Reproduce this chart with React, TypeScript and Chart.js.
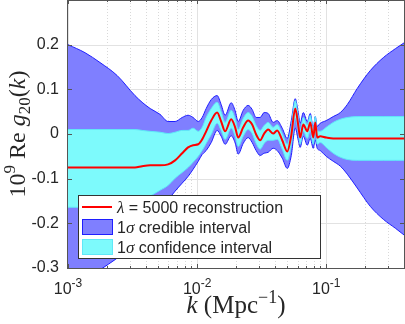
import React, { useEffect, useRef } from 'react';
import { Chart, registerables } from 'chart.js';

Chart.register(...registerables);

// k (Mpc^-1)
const kValues = [
  0.001, 0.001355, 0.00177, 0.0024, 0.0033, 0.00375, 0.00433, 0.00516, 0.00596, 0.00675,
  0.00766, 0.00851, 0.00931, 0.0102, 0.01094, 0.01175, 0.01286, 0.01429, 0.01535, 0.01648,
  0.01835, 0.0197, 0.0208, 0.02275, 0.02483, 0.02667, 0.02864, 0.03076, 0.03304, 0.03548,
  0.03882, 0.04169, 0.0456, 0.0499, 0.0536, 0.0575, 0.0607, 0.0628, 0.0664, 0.0713,
  0.0752, 0.0793, 0.0822, 0.0851, 0.0897, 0.1, 0.1132, 0.1285, 0.1456, 0.1738,
  0.2193, 0.2767, 0.343, 0.4,
];

// lambda = 5000 reconstruction
const reconstruction = [
  -0.075, -0.075, -0.075, -0.075, -0.075, -0.072, -0.07, -0.07, -0.068, -0.059,
  -0.043, -0.03, -0.025, -0.023, -0.012, 0.006, 0.03, 0.048, 0.028, 0.006,
  0.033, 0.015, -0.008, 0.015, 0.03, 0.021, -0.001, -0.014, 0.001, 0.01,
  0.001, 0.008, -0.014, -0.039, -0.003, 0.057, 0.019, -0.008, 0.021, 0.006,
  0.026, -0.008, 0.026, -0.008, -0.005, -0.008, -0.01, -0.01, -0.01, -0.01,
  -0.01, -0.01, -0.01, -0.01,
];

// 1 sigma confidence interval
const confidenceUpper = [
  0.01, 0.01, 0.01, 0.01, 0.01, 0.008, 0.006, 0.004, 0.001, 0.004,
  0.008, 0.008, 0.013, 0.006, 0.015, 0.037, 0.057, 0.071, 0.05, 0.026,
  0.053, 0.035, 0.01, 0.035, 0.048, 0.039, 0.019, 0.008, 0.019, 0.026,
  0.015, 0.021, 0.001, -0.023, 0.017, 0.075, 0.037, 0.008, 0.037, 0.021,
  0.042, 0.008, 0.039, 0.008, 0.006, 0.015, 0.026, 0.033, 0.037, 0.039,
  0.039, 0.039, 0.039, 0.039,
];
const confidenceLower = [
  -0.164, -0.164, -0.164, -0.164, -0.159, -0.15, -0.139, -0.126, -0.115, -0.099,
  -0.086, -0.075, -0.063, -0.05, -0.037, -0.021, -0.001, 0.024, 0.008, -0.012,
  0.013, -0.005, -0.028, -0.005, 0.01, 0.001, -0.021, -0.034, -0.021, -0.014,
  -0.014, -0.012, -0.034, -0.059, -0.025, 0.035, 0.004, -0.023, 0.006, -0.01,
  0.008, -0.023, 0.008, -0.023, -0.019, -0.03, -0.043, -0.052, -0.057, -0.059,
  -0.059, -0.059, -0.059, -0.059,
];

// 1 sigma credible interval
const credibleUpper = [
  0.2, 0.182, 0.16, 0.131, 0.086, 0.071, 0.057, 0.044, 0.028, 0.028,
  0.037, 0.042, 0.037, 0.028, 0.037, 0.057, 0.077, 0.086, 0.066, 0.042,
  0.07, 0.052, 0.028, 0.053, 0.064, 0.055, 0.037, 0.037, 0.048, 0.046,
  0.026, 0.03, 0.013, -0.01, 0.03, 0.079, 0.048, 0.024, 0.048, 0.028,
  0.046, 0.013, 0.039, 0.017, 0.024, 0.03, 0.039, 0.048, 0.066, 0.102,
  0.142, 0.171, 0.191, 0.204,
];
const credibleLower = [
  -0.35, -0.327, -0.304, -0.278, -0.244, -0.224, -0.202, -0.175, -0.148, -0.128,
  -0.11, -0.095, -0.079, -0.061, -0.046, -0.037, -0.019, 0.008, -0.005, -0.023,
  -0.004, -0.02, -0.045, -0.021, -0.008, -0.019, -0.037, -0.048, -0.043, -0.041,
  -0.032, -0.037, -0.054, -0.077, -0.048, 0.013, -0.014, -0.03, -0.005, -0.025,
  -0.01, -0.032, -0.014, -0.032, -0.037, -0.05, -0.061, -0.072, -0.09, -0.121,
  -0.162, -0.191, -0.211, -0.226,
];

const yGridValues = [-0.2, -0.1, 0, 0.1, 0.2];
const xDecades = [0.001, 0.01, 0.1];
const xTickExponents = ['-3', '-2', '-1'];
const minorMultipliers = [2, 3, 4, 5, 6, 7, 8, 9];
const legendLabels = ['λ = 5000 reconstruction', '1σ credible interval', '1σ confidence interval'];

const SANS = '"Liberation Sans", Arial, Helvetica, sans-serif';
const SERIF = '"Liberation Serif", "Times New Roman", serif';
const TEXT = '#262626';
const AXIS = '#555555';
const BLUE_FILL = 'rgb(127,127,255)';
const BLUE_EDGE = 'rgb(30,30,255)';
const CYAN_FILL = 'rgb(125,250,252)';
const CYAN_EDGE = 'rgb(95,232,248)';
const RED = 'rgb(255,0,0)';

type Part = { t: string; f: string; dy?: number };

function richWidth(ctx: CanvasRenderingContext2D, parts: Part[]) {
  let w = 0;
  for (const p of parts) {
    ctx.font = p.f;
    w += ctx.measureText(p.t).width;
  }
  return w;
}

function drawRich(ctx: CanvasRenderingContext2D, parts: Part[], x: number, y: number) {
  let cx = x;
  for (const p of parts) {
    ctx.font = p.f;
    ctx.fillText(p.t, cx, y + (p.dy || 0));
    cx += ctx.measureText(p.t).width;
  }
}

function legendParts(label: string): Part[] {
  return label
    .split(/([λσ])/)
    .filter((s) => s.length > 0)
    .map((s) => (s === 'λ' || s === 'σ' ? { t: s, f: `italic 17px ${SERIF}` } : { t: s, f: `16px ${SANS}` }));
}

const decorPlugin = {
  id: 'decor',
  beforeDatasetsDraw(chart: any) {
    const { ctx, chartArea: a, scales } = chart;
    const xs = scales.x;
    const ys = scales.y;
    ctx.save();
    ctx.lineWidth = 1;
    // minor dotted x grid
    ctx.strokeStyle = '#d9d9d9';
    ctx.setLineDash([1, 2]);
    for (const d of xDecades) {
      for (const m of minorMultipliers) {
        const v = m * d;
        if (v > xs.max) continue;
        const px = Math.round(xs.getPixelForValue(v)) + 0.5;
        ctx.beginPath();
        ctx.moveTo(px, a.top);
        ctx.lineTo(px, a.bottom);
        ctx.stroke();
      }
    }
    ctx.setLineDash([]);
    ctx.strokeStyle = '#e2e2e2';
    for (const d of xDecades) {
      const px = Math.round(xs.getPixelForValue(d)) + 0.5;
      ctx.beginPath();
      ctx.moveTo(px, a.top);
      ctx.lineTo(px, a.bottom);
      ctx.stroke();
    }
    for (const v of yGridValues) {
      const py = Math.round(ys.getPixelForValue(v)) + 0.5;
      ctx.beginPath();
      ctx.moveTo(a.left, py);
      ctx.lineTo(a.right, py);
      ctx.stroke();
    }
    ctx.restore();
  },
  afterDraw(chart: any) {
    const { ctx, chartArea: a, scales } = chart;
    const xs = scales.x;
    const ys = scales.y;
    ctx.save();
    ctx.lineWidth = 1;
    ctx.strokeStyle = AXIS;
    ctx.setLineDash([]);
    // frame
    ctx.strokeRect(a.left - 0.5, a.top + 0.5, a.right - a.left + 1, a.bottom - a.top);
    // y ticks
    ctx.beginPath();
    for (const v of yGridValues) {
      const py = Math.round(ys.getPixelForValue(v)) + 0.5;
      ctx.moveTo(a.left, py);
      ctx.lineTo(a.left + 4, py);
      ctx.moveTo(a.right, py);
      ctx.lineTo(a.right - 4, py);
    }
    // x ticks
    for (const d of xDecades) {
      const px = Math.round(xs.getPixelForValue(d)) + 0.5;
      ctx.moveTo(px, a.bottom);
      ctx.lineTo(px, a.bottom - 4);
      ctx.moveTo(px, a.top);
      ctx.lineTo(px, a.top + 4);
      for (const m of minorMultipliers) {
        const v = m * d;
        if (v > xs.max) continue;
        const qx = Math.round(xs.getPixelForValue(v)) + 0.5;
        ctx.moveTo(qx, a.bottom);
        ctx.lineTo(qx, a.bottom - 2);
        ctx.moveTo(qx, a.top);
        ctx.lineTo(qx, a.top + 2);
      }
    }
    ctx.stroke();

    // x tick labels
    ctx.fillStyle = TEXT;
    ctx.textBaseline = 'alphabetic';
    ctx.textAlign = 'left';
    xDecades.forEach((d, i) => {
      const parts: Part[] = [
        { t: '10', f: `16px ${SANS}` },
        { t: xTickExponents[i], f: `12px ${SANS}`, dy: -7 },
      ];
      const w = richWidth(ctx, parts);
      const px = xs.getPixelForValue(d);
      drawRich(ctx, parts, px - w / 2, 294);
    });

    // x title
    const xParts: Part[] = [
      { t: 'k', f: `italic 25px ${SERIF}` },
      { t: ' (Mpc', f: `25px ${SERIF}` },
      { t: '−1', f: `18px ${SERIF}`, dy: -10 },
      { t: ')', f: `25px ${SERIF}` },
    ];
    const xw = richWidth(ctx, xParts);
    drawRich(ctx, xParts, (a.left + a.right) / 2 - xw / 2, 313);

    // y title
    const yParts: Part[] = [
      { t: '10', f: `24px ${SERIF}` },
      { t: '9', f: `17px ${SERIF}`, dy: -10 },
      { t: ' Re ', f: `24px ${SERIF}` },
      { t: 'g', f: `italic 24px ${SERIF}` },
      { t: '20', f: `17px ${SERIF}`, dy: 5 },
      { t: '(', f: `24px ${SERIF}` },
      { t: 'k', f: `italic 24px ${SERIF}` },
      { t: ')', f: `24px ${SERIF}` },
    ];
    const yw = richWidth(ctx, yParts);
    ctx.save();
    ctx.translate(25, (a.top + a.bottom) / 2);
    ctx.rotate(-Math.PI / 2);
    drawRich(ctx, yParts, -yw / 2, 0);
    ctx.restore();

    // legend
    const lx = a.left + 10;
    const ly = a.bottom - 73;
    const lw = 242;
    const lh = 63;
    ctx.fillStyle = '#ffffff';
    ctx.fillRect(lx, ly, lw, lh);
    ctx.strokeStyle = '#333333';
    ctx.strokeRect(lx + 0.5, ly + 0.5, lw, lh);
    // row 1: red line
    ctx.strokeStyle = RED;
    ctx.lineWidth = 2;
    ctx.beginPath();
    ctx.moveTo(lx + 4, ly + 12);
    ctx.lineTo(lx + 34, ly + 12);
    ctx.stroke();
    // row 2: blue patch
    ctx.lineWidth = 1;
    ctx.fillStyle = BLUE_FILL;
    ctx.fillRect(lx + 4.5, ly + 24.5, 30, 15);
    ctx.strokeStyle = BLUE_EDGE;
    ctx.strokeRect(lx + 4.5, ly + 24.5, 30, 15);
    // row 3: cyan patch
    ctx.fillStyle = CYAN_FILL;
    ctx.fillRect(lx + 4.5, ly + 44.5, 30, 15);
    ctx.strokeStyle = CYAN_EDGE;
    ctx.strokeRect(lx + 4.5, ly + 44.5, 30, 15);
    ctx.fillStyle = TEXT;
    legendLabels.forEach((label, i) => {
      drawRich(ctx, legendParts(label), lx + 39, ly + 18 + i * 20);
    });
    ctx.restore();
  },
};

export default function App() {
  const canvasRef = useRef<HTMLCanvasElement | null>(null);

  useEffect(() => {
    const canvas = canvasRef.current;
    if (!canvas) return;
    const pts = (arr: number[]) => kValues.map((k, i) => ({ x: k, y: arr[i] }));
    const chart = new Chart(canvas, {
      type: 'line',
      data: {
        datasets: [
          {
            label: legendLabels[0],
            data: pts(reconstruction),
            borderColor: RED,
            borderWidth: 2,
            pointRadius: 0,
            fill: false,
            cubicInterpolationMode: 'monotone',
          },
          {
            label: 'confidence upper',
            data: pts(confidenceUpper),
            borderColor: CYAN_EDGE,
            borderWidth: 1,
            pointRadius: 0,
            fill: false,
            cubicInterpolationMode: 'monotone',
          },
          {
            label: legendLabels[2],
            data: pts(confidenceLower),
            borderColor: CYAN_EDGE,
            backgroundColor: CYAN_FILL,
            borderWidth: 1,
            pointRadius: 0,
            fill: '-1',
            cubicInterpolationMode: 'monotone',
          },
          {
            label: 'credible upper',
            data: pts(credibleUpper),
            borderColor: BLUE_EDGE,
            borderWidth: 1,
            pointRadius: 0,
            fill: false,
            cubicInterpolationMode: 'monotone',
          },
          {
            label: legendLabels[1],
            data: pts(credibleLower),
            borderColor: BLUE_EDGE,
            backgroundColor: BLUE_FILL,
            borderWidth: 1,
            pointRadius: 0,
            fill: '-1',
            cubicInterpolationMode: 'monotone',
          },
        ],
      },
      options: {
        responsive: false,
        animation: false,
        devicePixelRatio: 1,
        layout: { padding: { top: 0, right: 1, left: 0, bottom: 0 } },
        plugins: {
          legend: { display: false },
          tooltip: { enabled: false },
        },
        scales: {
          x: {
            type: 'logarithmic',
            min: 0.001,
            max: 0.4,
            grid: { display: false },
            border: { display: false },
            ticks: { display: false },
            afterFit: (s: any) => {
              s.height = 56;
              s.paddingLeft = 0;
              s.paddingRight = 0;
            },
          },
          y: {
            type: 'linear',
            min: -0.3,
            max: 0.3,
            grid: { display: false, drawTicks: false },
            border: { display: false },
            ticks: {
              stepSize: 0.1,
              autoSkip: false,
              padding: 9,
              color: TEXT,
              font: { size: 16, family: '"Liberation Sans", Arial, sans-serif' },
              callback: (v: any) => {
                const n = Number(v);
                if (Math.abs(n - 0.3) < 1e-9) return '';
                return String(Number(n.toFixed(1)));
              },
            },
            afterFit: (s: any) => {
              s.width = 68;
              s.paddingTop = 0;
              s.paddingBottom = 0;
            },
          },
        },
      } as any,
      plugins: [decorPlugin],
    });
    return () => chart.destroy();
  }, []);

  return (
    <div style={{ position: 'fixed', left: 0, top: 0, width: 405, height: 324, background: '#fff' }}>
      <canvas ref={canvasRef} width={405} height={324} style={{ display: 'block' }} />
    </div>
  );
}
